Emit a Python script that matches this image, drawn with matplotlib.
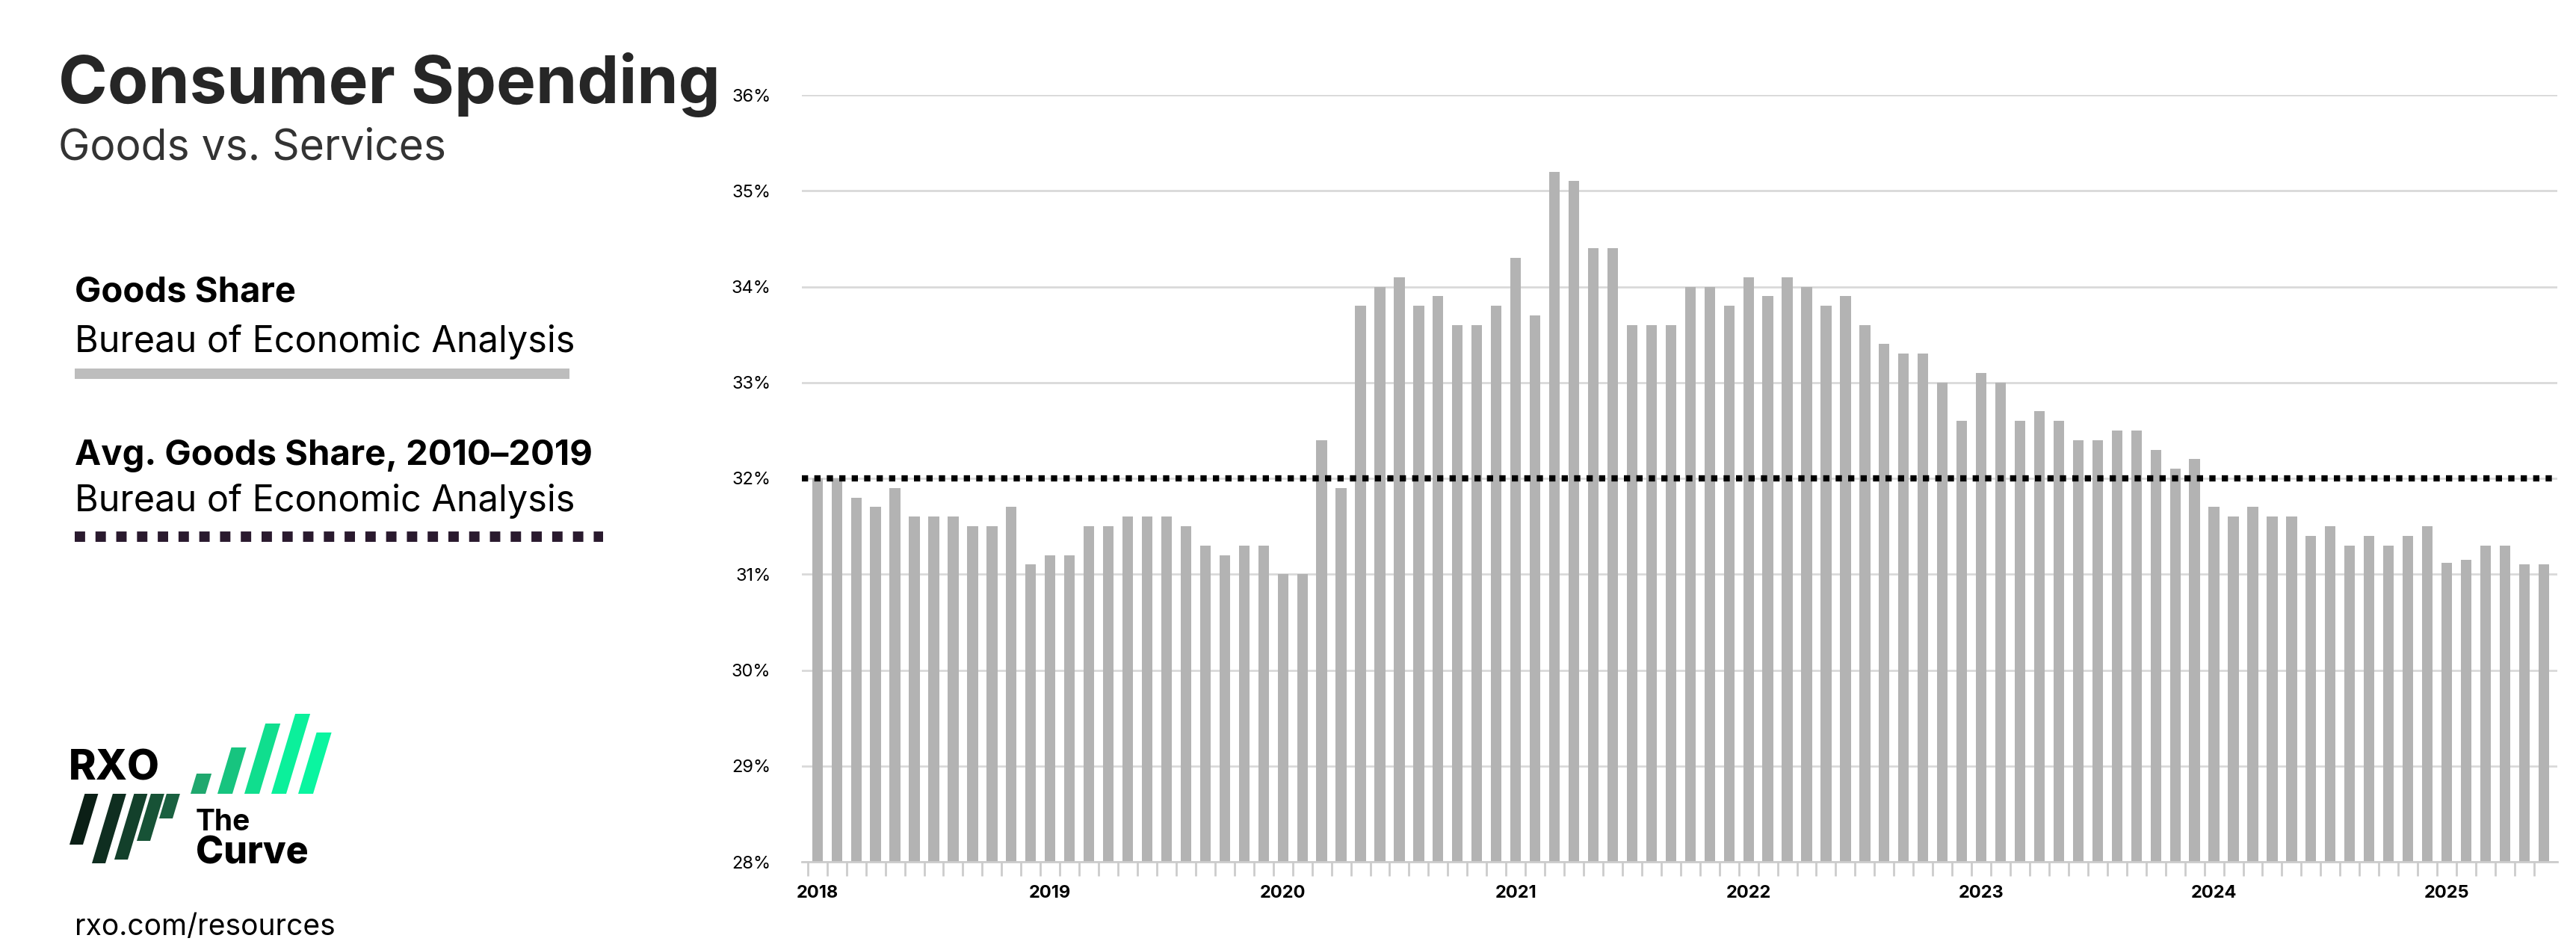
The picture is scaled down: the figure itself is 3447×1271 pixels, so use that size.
import matplotlib
matplotlib.use("Agg")
import matplotlib.pyplot as plt
from matplotlib.patches import Polygon
import numpy as np

years = ["2018", "2019", "2020", "2021", "2022", "2023", "2024", "2025"]
goods_share = [
    32.0, 32.0, 31.8, 31.7, 31.9, 31.6, 31.6, 31.6, 31.5, 31.5, 31.7, 31.1,
    31.2, 31.2, 31.5, 31.5, 31.6, 31.6, 31.6, 31.5, 31.3, 31.2, 31.3, 31.3,
    31.0, 31.0, 32.4, 31.9, 33.8, 34.0, 34.1, 33.8, 33.9, 33.6, 33.6, 33.8,
    34.3, 33.7, 35.2, 35.1, 34.4, 34.4, 33.6, 33.6, 33.6, 34.0, 34.0, 33.8,
    34.1, 33.9, 34.1, 34.0, 33.8, 33.9, 33.6, 33.4, 33.3, 33.3, 33.0, 32.6,
    33.1, 33.0, 32.6, 32.7, 32.6, 32.4, 32.4, 32.5, 32.5, 32.3, 32.1, 32.2,
    31.7, 31.6, 31.7, 31.6, 31.6, 31.4, 31.5, 31.3, 31.4, 31.3, 31.4, 31.5,
    31.12, 31.15, 31.3, 31.3, 31.1, 31.1,
]
avg_share = 32.0
y_ticks = [28, 29, 30, 31, 32, 33, 34, 35, 36]

W, H = 3448, 1271
fig = plt.figure(figsize=(W / 100, H / 100), dpi=100)
FONT = ["Inter", "DejaVu Sans"]

def fx(x): return x / W
def fy(y): return 1 - y / H

ax = fig.add_axes([fx(1073), fy(1153), fx(3422) - fx(1073), fy(127) - fy(1153)])
n = len(goods_share)
x = np.arange(n)
ax.bar(x, goods_share, width=0.55, color="#b3b3b3", zorder=2)
ax.axhline(avg_share, color="black", lw=6, linestyle=(0, (1, 1)), dash_capstyle="butt", zorder=3)
ax.set_ylim(28, 36)
ax.set_xlim(-0.8, n - 0.3)
ax.set_yticks(y_ticks)
ax.set_yticklabels([f"{v}%" for v in y_ticks], fontsize=17, family=FONT)
ax.yaxis.grid(True, color="#d9d9d9", lw=2, zorder=0)
ax.tick_params(axis="y", length=0, pad=30)
ax.set_xticks(np.arange(n) - 0.5, minor=True)
ax.tick_params(axis="x", which="minor", length=14, color="#cccccc", width=2)
ax.set_xticks(np.arange(0, n, 12))
ax.set_xticklabels(years, fontsize=17, fontweight="bold", family=FONT)
ax.tick_params(axis="x", which="major", length=0, pad=22)
for s in ["top", "right", "left"]:
    ax.spines[s].set_visible(False)
ax.spines["bottom"].set_color("#cccccc")
ax.spines["bottom"].set_linewidth(2)

# Left panel texts
fig.text(fx(78), fy(138), "Consumer Spending", fontsize=64, fontweight="bold", color="#262626", family=FONT, va="baseline")
fig.text(fx(78), fy(213), "Goods vs. Services", fontsize=41, color="#333333", family=FONT, va="baseline")
fig.text(fx(100), fy(404), "Goods Share", fontsize=34, fontweight="bold", color="black", family=FONT, va="baseline")
fig.text(fx(100), fy(471), "Bureau of Economic Analysis", fontsize=35, color="black", family=FONT, va="baseline")
fig.add_artist(plt.Line2D([fx(100), fx(762)], [fy(500), fy(500)], color="#bdbdbd", lw=10, solid_capstyle="butt"))
fig.text(fx(100), fy(622), "Avg. Goods Share, 2010\u20132019", fontsize=34, fontweight="bold", color="black", family=FONT, va="baseline")
fig.text(fx(100), fy(684), "Bureau of Economic Analysis", fontsize=35, color="black", family=FONT, va="baseline")
fig.add_artist(plt.Line2D([fx(100), fx(807)], [fy(718), fy(718)], color="#2a1a2e", lw=10,
                          linestyle=(0, (1, 1)), dash_capstyle="butt"))

# Logo
fig.text(fx(92), fy(1044), "RXO", fontsize=40, fontweight="heavy", color="black", family=FONT, va="baseline")
dark = ["#0b1f16", "#0f2e20", "#13402b", "#175236", "#1a6040"]
dark_bots = [1130, 1155, 1150, 1125, 1095]
for i, (c, b) in enumerate(zip(dark, dark_bots)):
    x0 = 93 + i * 30
    top = 1062
    sl = (b - top) * 0.3
    poly = [(x0 + sl, top), (x0 + sl + 18, top), (x0 + 18, b), (x0, b)]
    fig.add_artist(Polygon([(fx(a), fy(q)) for a, q in poly], closed=True, color=c, lw=0))
bright = ["#1fa86e", "#17c47f", "#10de8e", "#0bf09b", "#0af5a0"]
tops = [1035, 1000, 968, 955, 980]
for i, (c, t) in enumerate(zip(bright, tops)):
    x0 = 255 + i * 36
    bot = 1062
    sl = (bot - t) * 0.3
    poly = [(x0 + sl, t), (x0 + sl + 20, t), (x0 + 20, bot), (x0, bot)]
    fig.add_artist(Polygon([(fx(a), fy(q)) for a, q in poly], closed=True, color=c, lw=0))
fig.text(fx(262), fy(1111), "The", fontsize=28, fontweight="bold", color="black", family=FONT, va="baseline")
fig.text(fx(262), fy(1155), "Curve", fontsize=36, fontweight="heavy", color="black", family=FONT, va="baseline")
fig.text(fx(100), fy(1251), "rxo.com/resources", fontsize=28, color="black", family=FONT, va="baseline")

fig.savefig("out.png", dpi=100, facecolor="white")
